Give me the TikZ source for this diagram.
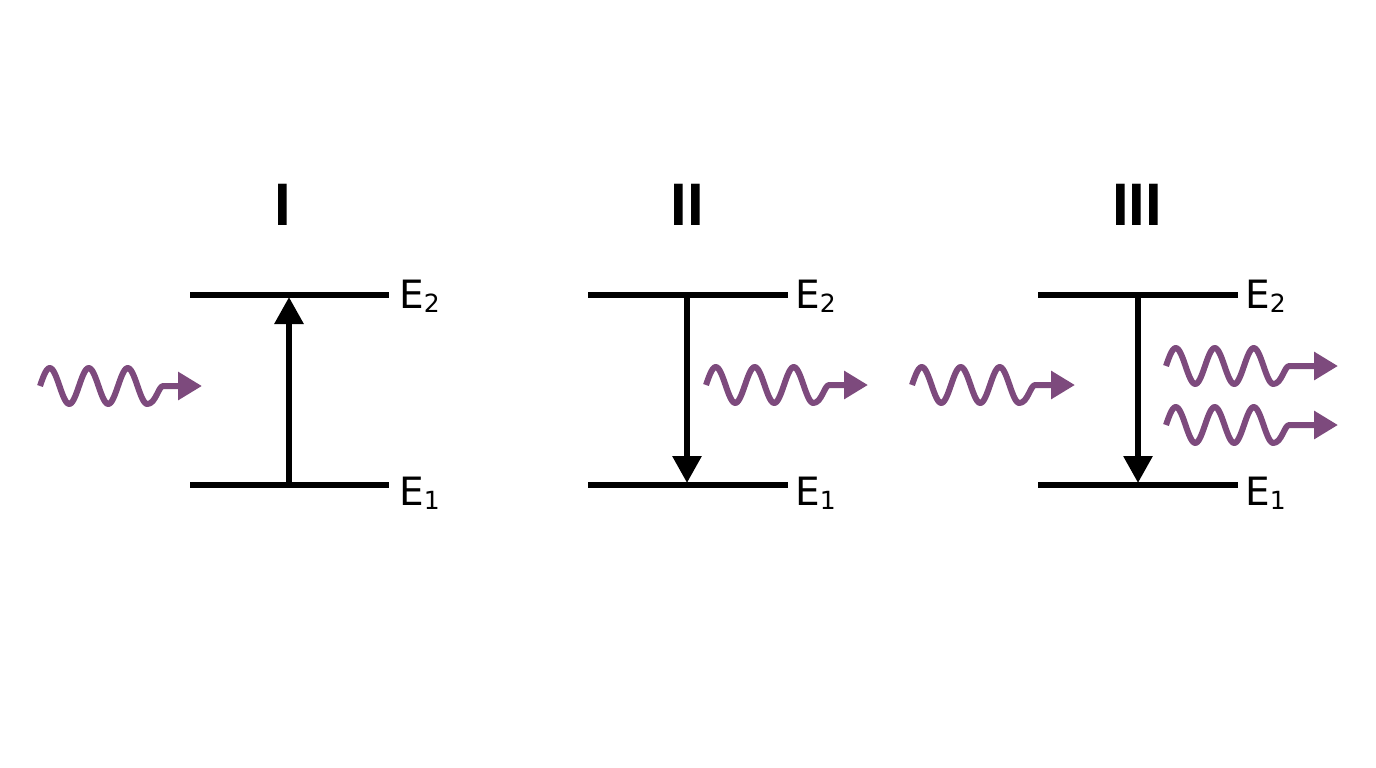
\documentclass[tikz,border=0pt]{standalone}
\usepackage{fontspec}
\setmainfont{DejaVu Sans}
\newfontfamily\titlefont{Liberation Sans}
\usetikzlibrary{arrows.meta}
\definecolor{photon}{RGB}{125,74,125}
\tikzset{
  level/.style={line width=6.3pt,black},
  transition/.style={line width=6pt,black,-{Triangle[length=27pt,width=28pt]}},
  photonline/.style={line width=6pt,photon,line join=round,-{Triangle[length=24pt,width=27pt]}},
  title/.style={anchor=base,inner sep=0pt,font=\titlefont\bfseries\fontsize{60}{60}\selectfont},
  elabel/.style={anchor=base west,inner sep=0pt,font=\fontsize{39}{39}\selectfont}
}
\newcommand\photon[2]{%
  \draw[photonline,shift={(#1)}] plot[domain=0:107.25,samples=80,smooth] (\x,{-18*sin(9.230769*\x)})
    .. controls +(8.6,0) and +(-5,0) .. +(16,-18) -- (#2);}
\newcommand\elab[2]{E\raisebox{-4pt}{\fontsize{25}{25}\selectfont #2}}
\begin{document}
\begin{tikzpicture}[x=1pt,y=-1pt]
\path[use as bounding box,fill=white] (0,0) rectangle (1376,768);

% titles
\node[title] (t1) at (283,225) {I};
\node[title] (t2) at (687,225) {II};
\node[title] (t3) at (1137,225) {III};

% panel I
\coordinate (a2l) at (190,295); \coordinate (a2r) at (389,295);
\coordinate (a1l) at (190,485); \coordinate (a1r) at (389,485);
\draw[level] (a2l) -- (a2r);
\draw[level] (a1l) -- (a1r);
\node[elabel] (ae2) at (399,308) {\elab{}{2}};
\node[elabel] (ae1) at (399,505) {\elab{}{1}};
\coordinate (alo) at (289,485); \coordinate (ahi) at (289,297);
\draw[transition] (alo) -- (ahi);
\coordinate (aws) at (40,386); \coordinate (awt) at (202,386);
\photon{aws}{awt}

% panel II
\coordinate (b2l) at (588,295); \coordinate (b2r) at (788,295);
\coordinate (b1l) at (588,485); \coordinate (b1r) at (788,485);
\draw[level] (b2l) -- (b2r);
\draw[level] (b1l) -- (b1r);
\node[elabel] (be2) at (795,308) {\elab{}{2}};
\node[elabel] (be1) at (795,505) {\elab{}{1}};
\coordinate (bhi) at (687,295); \coordinate (blo) at (687,483);
\draw[transition] (bhi) -- (blo);
\coordinate (bws) at (706,385); \coordinate (bwt) at (868,385);
\photon{bws}{bwt}

% panel III
\coordinate (c2l) at (1038,295); \coordinate (c2r) at (1238,295);
\coordinate (c1l) at (1038,485); \coordinate (c1r) at (1238,485);
\draw[level] (c2l) -- (c2r);
\draw[level] (c1l) -- (c1r);
\node[elabel] (ce2) at (1245,308) {\elab{}{2}};
\node[elabel] (ce1) at (1245,505) {\elab{}{1}};
\coordinate (chi) at (1138,295); \coordinate (clo) at (1138,483);
\draw[transition] (chi) -- (clo);
\coordinate (cws) at (912,385); \coordinate (cwt) at (1075,385);
\photon{cws}{cwt}
\coordinate (dws) at (1166,366); \coordinate (dwt) at (1338,366);
\photon{dws}{dwt}
\coordinate (ews) at (1166,425); \coordinate (ewt) at (1338,425);
\photon{ews}{ewt}
\end{tikzpicture}
\end{document}
